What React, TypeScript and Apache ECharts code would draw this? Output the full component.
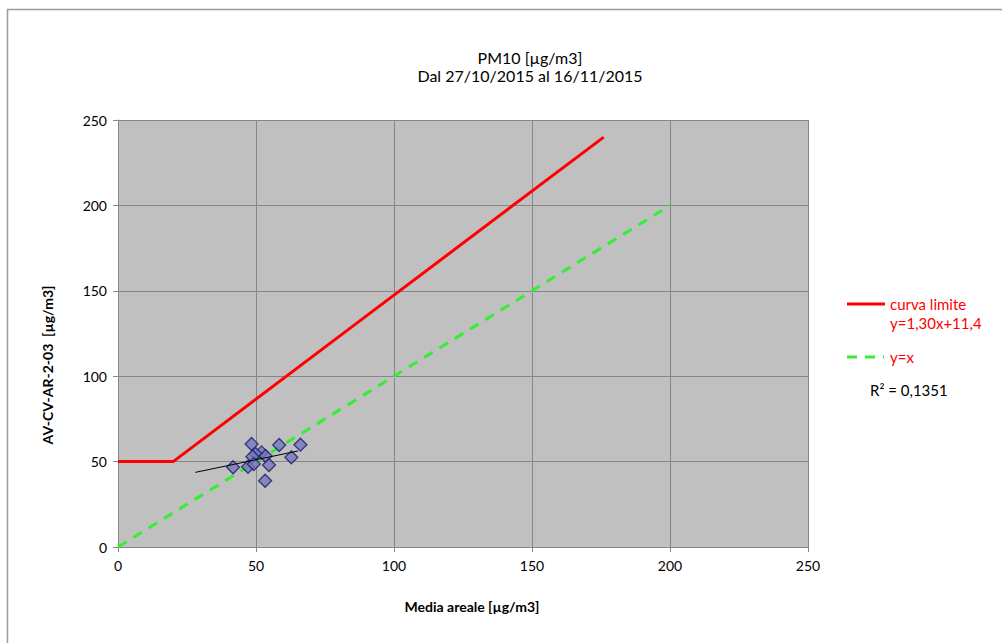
import React, { useEffect, useRef } from "react";
import * as echarts from "echarts";

const titleLines = ["PM10 [µg/m3]", "Dal 27/10/2015 al 16/11/2015"];
const xAxisTitle = "Media areale [µg/m3]";
const yAxisTitle = "AV-CV-AR-2-03  [µg/m3]";

const measuredPoints: [number, number][] = [
  [48.4, 60.3],
  [52.0, 55.4],
  [49.9, 54.4],
  [58.4, 59.7],
  [66.1, 59.9],
  [48.7, 52.9],
  [53.5, 53.3],
  [62.8, 52.5],
  [41.7, 46.7],
  [47.1, 47.0],
  [49.2, 48.6],
  [54.7, 48.0],
  [53.3, 38.8],
];

const limitCurve: [number, number][] = [
  [0, 50],
  [20, 50],
  [84, 128],
  [176, 240],
];

const identityLine: [number, number][] = [
  [0, 0],
  [200, 200],
];

const trendLine: [number, number][] = [
  [28, 43.7],
  [65.2, 56.2],
];

const legendLabels = ["curva limite", "y=1,30x+11,4", "y=x", "R² = 0,1351"];

const FONT = "Lato, 'Open Sans', sans-serif";

export default function App() {
  const ref = useRef<HTMLDivElement>(null);
  useEffect(() => {
    document.body.style.margin = "0";
    const chart = echarts.init(ref.current!, null, { renderer: "svg" });
    chart.setOption({
      animation: false,
      backgroundColor: "#ffffff",
      textStyle: { fontFamily: FONT },
      grid: { left: 118, top: 120, width: 690, height: 427, show: true, backgroundColor: "#c0c0c0", borderWidth: 0 },
      xAxis: {
        type: "value",
        min: 0,
        max: 250,
        interval: 50,
        axisLine: { show: true, lineStyle: { color: "#868686" } },
        axisTick: { show: true, length: 5, inside: false, lineStyle: { color: "#868686" } },
        splitLine: { show: true, lineStyle: { color: "#868686", width: 1 } },
        axisLabel: { color: "#000", fontSize: 14, fontFamily: FONT, margin: 11 },
      },
      yAxis: {
        type: "value",
        min: 0,
        max: 250,
        interval: 50,
        axisLine: { show: true, lineStyle: { color: "#868686" } },
        axisTick: { show: true, length: 5, lineStyle: { color: "#868686" } },
        splitLine: { show: true, lineStyle: { color: "#868686", width: 1 } },
        axisLabel: { color: "#000", fontSize: 14, fontFamily: FONT, margin: 11 },
      },
      series: [
        {
          type: "line",
          data: limitCurve,
          symbol: "none",
          lineStyle: { color: "#ff0000", width: 3 },
          z: 3,
        },
        {
          type: "line",
          data: identityLine,
          symbol: "none",
          lineStyle: { color: "#33ee33", width: 3, type: [10, 8] },
          z: 3,
        },
        {
          type: "line",
          data: trendLine,
          symbol: "none",
          lineStyle: { color: "#000000", width: 1 },
          z: 5,
        },
        {
          type: "scatter",
          data: measuredPoints,
          symbol: "diamond",
          symbolSize: 13,
          itemStyle: { color: "#7575bf", borderColor: "#1a1a66", borderWidth: 1.3 },
          z: 4,
        },
      ],
      graphic: [
        {
          type: "rect",
          shape: { x: 7.5, y: 9.5, width: 1100, height: 1000 },
          style: { fill: "none", stroke: "#9a9a9a", lineWidth: 1.5 },
          silent: true,
          z: -10,
        },
        {
          type: "text",
          x: 530,
          y: 57,
          style: { text: titleLines[0], fontSize: 16, fontFamily: FONT, fill: "#000", align: "center", verticalAlign: "middle" },
        },
        {
          type: "text",
          x: 530,
          y: 75,
          style: { text: titleLines[1], fontSize: 16, fontFamily: FONT, fill: "#000", align: "center", verticalAlign: "middle" },
        },
        {
          type: "text",
          x: 472,
          y: 606,
          style: { text: xAxisTitle, fontSize: 14, fontWeight: "bold", fontFamily: FONT, fill: "#000", align: "center", verticalAlign: "middle" },
        },
        {
          type: "text",
          x: 47,
          y: 365,
          rotation: Math.PI / 2,
          style: { text: yAxisTitle, fontSize: 14, fontWeight: "bold", fontFamily: FONT, fill: "#000", align: "center", verticalAlign: "middle" },
        },
        {
          type: "line",
          shape: { x1: 847, y1: 304, x2: 885, y2: 304 },
          style: { stroke: "#ff0000", lineWidth: 3 },
        },
        {
          type: "text",
          x: 890,
          y: 304,
          style: { text: legendLabels[0], fontSize: 15, fontFamily: FONT, fill: "#ff0000", align: "left", verticalAlign: "middle" },
        },
        {
          type: "text",
          x: 890,
          y: 323,
          style: { text: legendLabels[1], fontSize: 15, fontFamily: FONT, fill: "#ff0000", align: "left", verticalAlign: "middle" },
        },
        {
          type: "line",
          shape: { x1: 847, y1: 357, x2: 884, y2: 357 },
          style: { stroke: "#33ee33", lineWidth: 3, lineDash: [10, 8] },
        },
        {
          type: "text",
          x: 890,
          y: 357,
          style: { text: legendLabels[2], fontSize: 15, fontFamily: FONT, fill: "#ff0000", align: "left", verticalAlign: "middle" },
        },
        {
          type: "text",
          x: 870,
          y: 390,
          style: { text: legendLabels[3], fontSize: 15, fontFamily: FONT, fill: "#000", align: "left", verticalAlign: "middle" },
        },
      ],
    });
    return () => chart.dispose();
  }, []);
  return <div ref={ref} style={{ width: 1002, height: 643, position: "absolute", left: 0, top: 0 }} />;
}
